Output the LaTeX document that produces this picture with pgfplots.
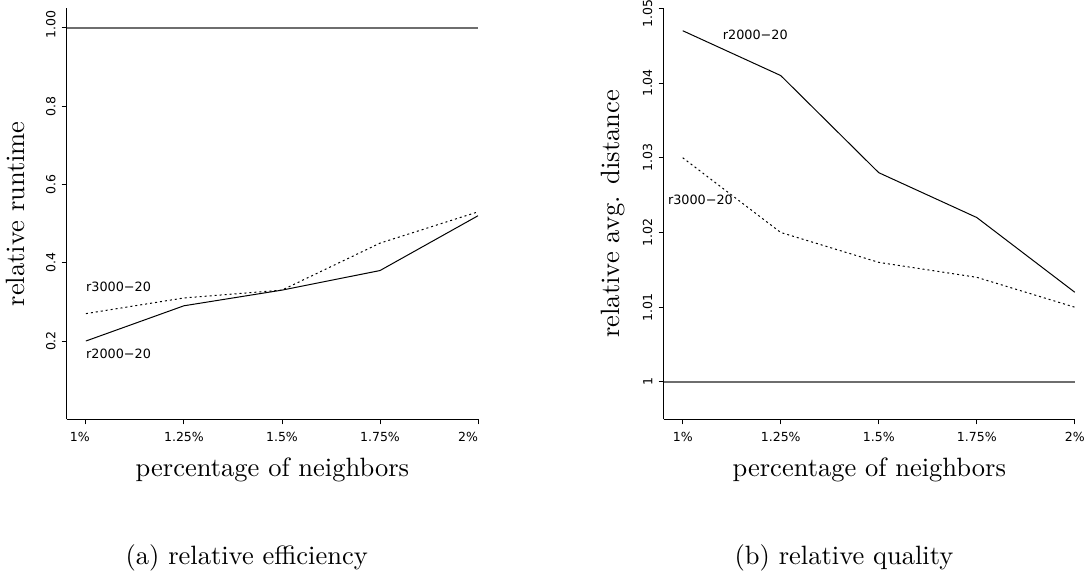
\documentclass[border=0pt]{standalone}
\usepackage{fontspec}
\usepackage{pgfplots}
\pgfplotsset{compat=1.18}
\newfontfamily\dejavu{DejaVu Sans}
\newfontfamily\cmten{lmroman10-regular}[Extension=.otf]
\newcommand\tickfont{\dejavu\fontsize{12.5bp}{14bp}\selectfont}
\newcommand\annfont{\dejavu\fontsize{12.8bp}{14bp}\selectfont}
\newcommand\labfont{\cmten\fontsize{26.5bp}{30bp}\selectfont}
\pgfplotsset{
  rstyle/.style={
    scale only axis, width=411.3bp, height=411bp,
    anchor=south west,
    axis x line*=bottom, axis y line*=left,
    axis line style={-, line width=0.9bp, black},
    tick align=outside, major tick length=5bp,
    tick style={line width=0.9bp, black},
    xmin=0.951, xmax=2,
    xtick={1,1.25,1.5,1.75,2},
    ticklabel style={font=\tickfont, inner sep=0pt},
    yticklabel style={rotate=90, anchor=south},
    xticklabel style={anchor=north},
    xticklabel shift=8bp, yticklabel shift=6bp,
    clip=false,
  },
  solidline/.style={black, line width=1bp, no markers},
  dotline/.style={black, line width=1bp, no markers, dash pattern=on 2bp off 3bp},
  refline/.style={black!57, line width=1.4bp, no markers},
}
\begin{document}
\begin{tikzpicture}
\useasboundingbox (0,0) rectangle (1086bp,573bp);
% ---------- (a) relative efficiency ----------
\begin{axis}[rstyle, at={(66.7bp,153.7bp)},
  ymin=0, ymax=1.05,
  ytick={0.2,0.4,0.6,0.8,1.0},
  yticklabels={0.2,0.4,0.6,0.8,{1.00\hspace*{-7bp}}},
  xticklabels={{\hspace*{-12bp}1\%},1.25\%,1.5\%,1.75\%,{\hspace*{-20bp}2\%}},
]
\addplot[refline] coordinates {(0.951,1) (2,1)};
\addplot[solidline] coordinates {(1,0.20) (1.25,0.29) (1.5,0.33) (1.75,0.38) (2,0.52)};
\addplot[dotline] coordinates {(1,0.27) (1.25,0.31) (1.5,0.33) (1.75,0.45) (2,0.53)};
\node[anchor=west, inner sep=0pt, font=\annfont] at (axis cs:1,0.339) {r3000\textminus20};
\node[anchor=west, inner sep=0pt, font=\annfont] at (axis cs:1,0.168) {r2000\textminus20};
\end{axis}
% ---------- (b) relative quality ----------
\begin{axis}[rstyle, at={(663.5bp,153.7bp)},
  ymin=0.995, ymax=1.05,
  ytick={1,1.01,1.02,1.03,1.04,1.05},
  yticklabels={1,1.01,1.02,1.03,1.04,{\hspace*{-11bp}1.05}},
  xticklabels={1\%,1.25\%,1.5\%,1.75\%,2\%},
]
\addplot[refline] coordinates {(0.951,1) (2,1)};
\addplot[solidline] coordinates {(1,1.047) (1.25,1.041) (1.5,1.028) (1.75,1.022) (2,1.012)};
\addplot[dotline] coordinates {(1,1.030) (1.25,1.020) (1.5,1.016) (1.75,1.014) (2,1.010)};
\node[anchor=west, inner sep=0pt, font=\annfont] at (axis cs:1.102,1.0464) {r2000\textminus20};
\node[anchor=west, inner sep=0pt, font=\annfont] at (axis cs:0.962,1.02435) {r3000\textminus20};
\end{axis}
% ---------- labels and captions ----------
\node[rotate=90, anchor=base, inner sep=0pt, font=\labfont] at (24.5bp,359.2bp) {relative runtime};
\node[rotate=90, anchor=base, inner sep=0pt, font=\labfont] at (619bp,359.2bp) {relative avg. distance};
\node[anchor=base, inner sep=0pt, font=\labfont] at (272.4bp,96.3bp) {percentage of neighbors};
\node[anchor=base, inner sep=0pt, font=\labfont] at (869.3bp,96.3bp) {percentage of neighbors};
\node[anchor=base, inner sep=0pt, font=\labfont] at (246.7bp,9bp) {(a) relative efficiency};
\node[anchor=base, inner sep=0pt, font=\labfont] at (844bp,9bp) {(b) relative quality};
\end{tikzpicture}
\end{document}
